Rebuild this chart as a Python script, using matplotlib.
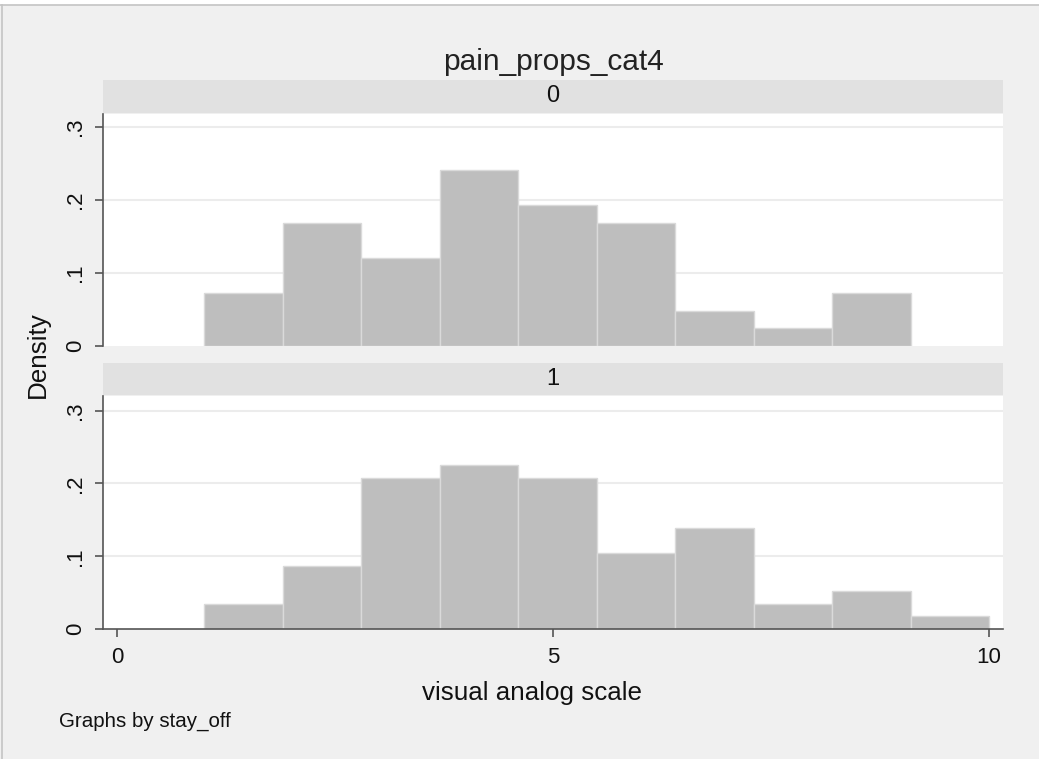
import matplotlib
matplotlib.use('Agg')
import matplotlib.pyplot as plt
from matplotlib.lines import Line2D
from matplotlib.patches import Rectangle

plt.rcParams['font.family'] = ['Liberation Sans', 'DejaVu Sans']

# histogram bins (left edges, width 0.9) and densities for each stay_off group
bin_left = [1.0, 1.9, 2.8, 3.7, 4.6, 5.5, 6.4, 7.3, 8.2, 9.1]
bin_width = 0.9
density_stay0 = [0.0725, 0.169, 0.121, 0.2415, 0.193, 0.169, 0.0483, 0.0242, 0.0725, 0.0]
density_stay1 = [0.0347, 0.0868, 0.208, 0.2257, 0.208, 0.104, 0.139, 0.0347, 0.052, 0.0174]
groups = ['0', '1']
ytick_vals = [0, 0.1, 0.2, 0.3]
ytick_labels = ['0', '.1', '.2', '.3']
xtick_vals = [0, 5, 10]

W, H = 1039, 759
bg = '#f0f0f0'
axis_col = '#555555'
fig = plt.figure(figsize=(W / 100, H / 100), dpi=100, facecolor=bg)


def fbox(left, top, right, bottom):
    return [left / W, 1 - bottom / H, (right - left) / W, (bottom - top) / H]


# window frame
fig.add_artist(Rectangle((0, 1 - 4.5 / H), 1, 4.5 / H, transform=fig.transFigure, color='white', lw=0))
fig.add_artist(Line2D([0, 1], [1 - 4.7 / H] * 2, transform=fig.transFigure, color='#c4c4c4', lw=1.2))
fig.add_artist(Line2D([2 / W] * 2, [0, 1 - 4.7 / H], transform=fig.transFigure, color='#c4c4c4', lw=1.2))

panels = [(density_stay0, 80, 114, 346, 0.318), (density_stay1, 363, 396, 629, 0.320)]
axes = []
for i, (dens, strip_top, top, bottom, ytop) in enumerate(panels):
    # strip with group label
    sax = fig.add_axes(fbox(103, strip_top, 1003, top - 1))
    sax.set_facecolor('#e1e1e1')
    sax.set_xticks([])
    sax.set_yticks([])
    for s in sax.spines.values():
        s.set_visible(False)
    sax.text(0.5, 0.5, groups[i], ha='center', va='center', fontsize=17, color='#111111',
             transform=sax.transAxes)

    ax = fig.add_axes(fbox(103, top, 1003, bottom))
    ax.set_facecolor('white')
    ax.set_xlim(-0.16, 10.16)
    ax.set_ylim(0, ytop)
    for y in ytick_vals[1:]:
        ax.axhline(y, color='#ececec', lw=1.5, zorder=0)
    lefts = [b for b, d in zip(bin_left, dens) if d > 0]
    heights = [d for d in dens if d > 0]
    ax.bar(lefts, heights, width=bin_width, align='edge', color='#bebebe',
           edgecolor='#dadada', linewidth=1.0, zorder=2)

    for s in ('top', 'right'):
        ax.spines[s].set_visible(False)
    ax.spines['left'].set_color(axis_col)
    ax.spines['left'].set_linewidth(1.2)
    ax.set_yticks(ytick_vals)
    ax.set_yticklabels(ytick_labels, rotation=90, va='center')
    ax.tick_params(axis='y', length=6, width=1.2, color=axis_col, pad=6, labelsize=16,
                   labelcolor='#111111')
    if i == 0:
        ax.spines['bottom'].set_visible(False)
        ax.set_xticks([])
    else:
        ax.spines['bottom'].set_color(axis_col)
        ax.spines['bottom'].set_linewidth(1.2)
        ax.set_xticks(xtick_vals)
        ax.set_xticklabels([str(v) for v in xtick_vals])
        ax.tick_params(axis='x', length=6, width=1.2, color=axis_col, pad=7, labelsize=16,
                       labelcolor='#111111')
    axes.append(ax)

fig.text(553 / W, 1 - 70 / H, 'pain_props_cat4', ha='center', va='baseline', fontsize=21.5, color='#222222')
fig.text(532 / W, 1 - 700 / H, 'visual analog scale', ha='center', va='baseline', fontsize=18.7,
         color='#111111')
fig.text(38 / W, 1 - 355 / H, 'Density', ha='center', va='center', rotation=90, fontsize=18.7,
         color='#111111')
fig.text(59 / W, 1 - 727 / H, 'Graphs by stay_off', ha='left', va='baseline', fontsize=14.8,
         color='#111111')

fig.savefig('out.png', dpi=100, facecolor=bg)
